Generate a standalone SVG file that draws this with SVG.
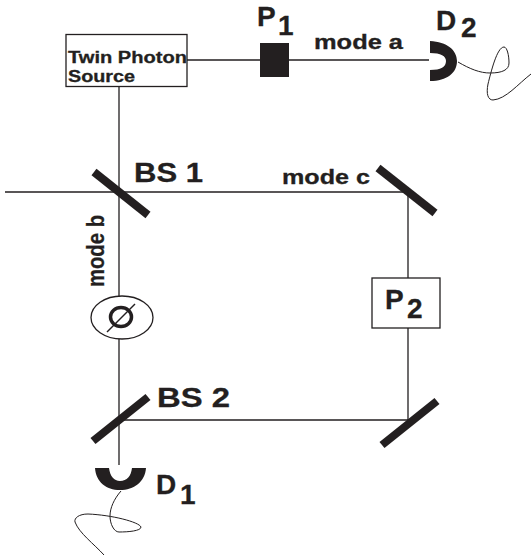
<svg xmlns="http://www.w3.org/2000/svg" width="531" height="559" viewBox="0 0 531 559">
<style>
.l{fill:none;stroke:#231f20;stroke-width:1.3}
.t{fill:none;stroke:#231f20;stroke-width:1}
.m{fill:none;stroke:#231f20;stroke-width:8}
.d{fill:#231f20}
text{font-family:"Liberation Sans",Arial,sans-serif;font-weight:bold;fill:#231f20;stroke:#231f20;stroke-width:.3}
.s{font-size:16px}
.b{font-size:27.500px}
.n{font-size:20.500px}
.v{font-size:24px}
.big{font-size:28px}
</style>
<rect width="531" height="559" fill="#fff"/>
<g id="connectors">
<path class="l" d="M187 60H260M289 60H429M119 86V296M119 339V465M5 192H408M408 192V278M408 328V420M119 420H408"/>
</g>
<g id="source"><rect class="l" x="66" y="34.500" width="121" height="52" fill="#fff"/><text class="s" x="68" y="63" textLength="119" lengthAdjust="spacingAndGlyphs">Twin Photon</text><text class="s" x="68" y="81.500" textLength="67" lengthAdjust="spacingAndGlyphs">Source</text></g>
<g id="p1"><rect class="d" x="260" y="43" width="29" height="34"/><text class="big" x="257" y="26">P</text><text class="big" x="278" y="35">1</text></g>
<g id="mode-a"><text class="n" x="314" y="48.500" textLength="89" lengthAdjust="spacingAndGlyphs">mode a</text></g>
<g id="d2"><path class="d" d="M430 41C447 42 457 50 457 61C457 73 447 81 430 81V70C441 70 446 67 446 61C446 56 441 53 430 53Z"/><path class="t" d="M458 62C470 69 480 73 490 73C502 73 509 70 509 63C509 55 507 47 504 47C497 47 491 72 488 84C486 94 488 100 493 100C506 99 518 84 531 74"/><text class="big" x="436" y="30">D</text><text class="big" x="461" y="37">2</text></g>
<g id="bs1"><path class="m" d="M94 172L148 215"/><text class="b" x="134" y="181.500" textLength="69" lengthAdjust="spacingAndGlyphs">BS 1</text></g>
<g id="mode-c"><text class="n" x="282" y="184" textLength="88" lengthAdjust="spacingAndGlyphs">mode c</text></g>
<g id="mirror-c"><path class="m" d="M378 168L435 213"/></g>
<g id="p2"><rect class="l" x="372" y="278" width="68" height="50" fill="#fff"/><text class="big" x="385" y="309">P</text><text class="big" x="407" y="318">2</text></g>
<g id="mode-b"><text class="v" transform="translate(104 287) rotate(-90)" textLength="72" lengthAdjust="spacingAndGlyphs">mode b</text></g>
<g id="phase"><ellipse class="l" cx="122" cy="317.500" rx="31" ry="21.500" fill="#fff"/><ellipse cx="121" cy="317" rx="10.500" ry="9.500" fill="none" stroke="#231f20" stroke-width="3.500"/><path class="t" d="M107 332L135 304" style="stroke-width:1.500"/></g>
<g id="bs2"><path class="m" d="M93 441L148 397"/><text class="b" x="157" y="407" textLength="73" lengthAdjust="spacingAndGlyphs">BS 2</text></g>
<g id="mirror-d"><path class="m" d="M382 445L437 401"/></g>
<g id="d1"><path class="d" d="M95 468H109C110 476 114 481 120 481C127 481 131 476 132 468H146C145 482 134 490 120 490C106 490 96 482 95 468Z"/><path class="t" d="M121 491C114 499 110 508 110 516C110 524 114 532 119 532C128 532 141 531 141 527C139 522 112 515 88 514C79 514 74 518 75 522C79 533 94 544 104 555"/><text class="big" x="156" y="494">D</text><text class="big" x="180" y="504">1</text></g>
</svg>
